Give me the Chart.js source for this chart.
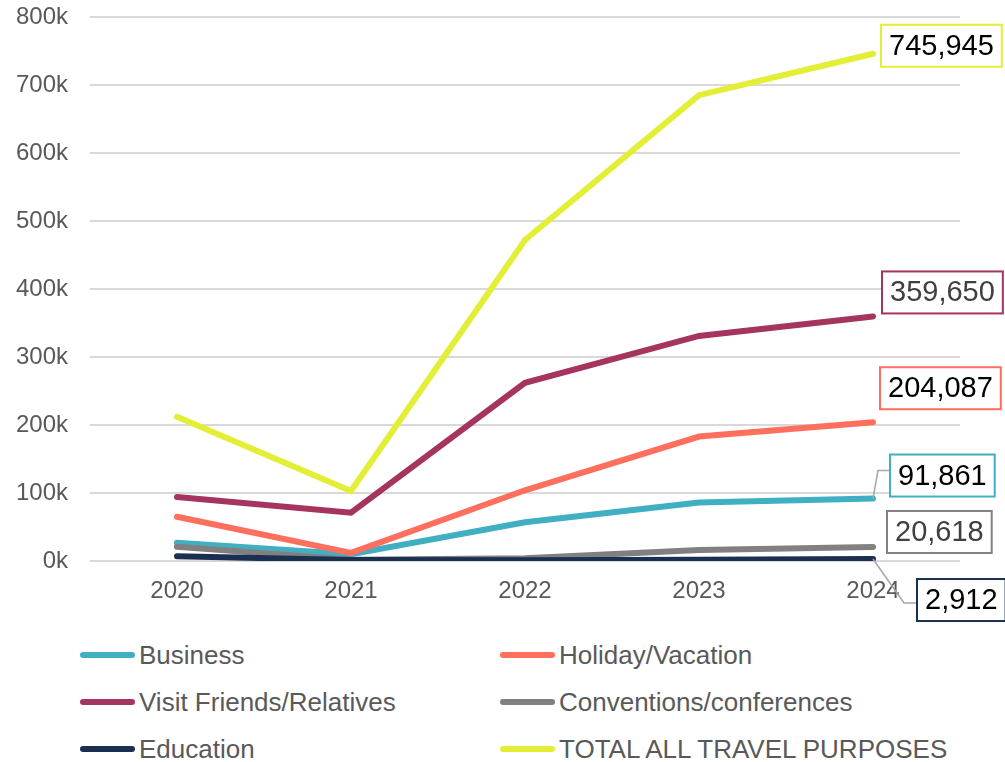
<!DOCTYPE html>
<html>
<head>
<meta charset="utf-8">
<script src="https://cdn.jsdelivr.net/npm/chart.js@4.4.1/dist/chart.umd.min.js"></script>
<style>
  body { margin: 0; background: #fff; font-family: "Liberation Sans", Arial, sans-serif; }
  #wrap { position: relative; width: 1005px; height: 762px; overflow: hidden; }
  #chartBox { position: absolute; left: 0; top: 0; width: 1005px; height: 630px; }
  .item { position: absolute; height: 30px; line-height: 30px; display: flex; align-items: center; font-size: 26px; color: #595959; white-space: nowrap; }
  .swatch { width: 55px; height: 6px; border-radius: 3px; margin-right: 4px; }
</style>
</head>
<body>
<div id="wrap">
  <div id="chartBox"><canvas id="travelChart"></canvas></div>
  <div id="legend"></div>
</div>
<script>
// years on the x axis
var years = ['2020', '2021', '2022', '2023', '2024'];

// visitors by travel purpose
var business      = [27000, 10000, 57000, 86000, 91861];
var holiday       = [65000, 12000, 104000, 183000, 204087];
var visitFriends  = [94000, 71000, 262000, 331000, 359650];
var conventions   = [21000, 2000, 4000, 16000, 20618];
var education     = [7000, 1500, 1000, 2000, 2912];
var totalAll      = [212000, 103000, 472000, 685000, 745945];

var seriesNames = ['Business', 'Holiday/Vacation', 'Visit Friends/Relatives',
                   'Conventions/conferences', 'Education', 'TOTAL ALL TRAVEL PURPOSES'];
var seriesData  = [business, holiday, visitFriends, conventions, education, totalAll];
var seriesColors = ['#40AFC1', '#FF6F5E', '#A5345F', '#808080', '#1B3050', '#E3EE36'];

// where the end-of-line value boxes sit, relative to the last point
var labelOffsets = [
    { dx: 17, dy: -44, color: '#000', leader: [[0, 0], [5, -28], [17, -28]] },
    { dx: 7,  dy: -55, color: '#000' },
    { dx: 9,  dy: -45, color: '#404040' },
    { dx: 14, dy: -36, color: '#404040' },
    { dx: 44, dy: 20,  color: '#000', leader: [[0, 0], [31, 44], [44, 44]] },
    { dx: 8,  dy: -29, color: '#000' }
];

var valueLabels = {
    id: 'valueLabels',
    afterDatasetsDraw: function (chart) {
        var ctx = chart.ctx;
        chart.data.datasets.forEach(function (ds, i) {
            var meta = chart.getDatasetMeta(i);
            var pt = meta.data[meta.data.length - 1];
            var o = labelOffsets[i];
            var text = ds.data[ds.data.length - 1].toLocaleString('en-US');
            ctx.save();
            ctx.font = '29px "Liberation Sans", Arial, sans-serif';
            var w = ctx.measureText(text).width + 16;
            var h = 42;
            var bx = pt.x + o.dx, by = pt.y + o.dy;
            if (o.leader) {
                ctx.strokeStyle = '#a6a6a6';
                ctx.lineWidth = 1.5;
                ctx.beginPath();
                o.leader.forEach(function (p, k) {
                    if (k === 0) ctx.moveTo(pt.x + p[0], pt.y + p[1]);
                    else ctx.lineTo(pt.x + p[0], pt.y + p[1]);
                });
                ctx.stroke();
            }
            ctx.fillStyle = '#fff';
            ctx.fillRect(bx, by, w, h);
            ctx.strokeStyle = ds.borderColor;
            ctx.lineWidth = 2;
            ctx.strokeRect(bx, by, w, h);
            ctx.fillStyle = o.color;
            ctx.textAlign = 'center';
            ctx.textBaseline = 'middle';
            ctx.fillText(text, bx + w / 2, by + h / 2 + 1);
            ctx.restore();
        });
    }
};

var datasets = seriesNames.map(function (name, i) {
    return {
        label: name,
        data: seriesData[i],
        borderColor: seriesColors[i],
        backgroundColor: seriesColors[i],
        borderWidth: 6,
        borderCapStyle: 'round',
        pointRadius: 0,
        tension: 0,
        order: seriesNames.length - i
    };
});

var ctx_travel = document.getElementById('travelChart').getContext('2d');
var travelChart = new Chart(ctx_travel, {
    type: 'line',
    data: { labels: years, datasets: datasets },
    options: {
        responsive: true,
        maintainAspectRatio: false,
        animation: false,
        layout: { padding: { top: 17, right: 45, left: 0, bottom: 0 } },
        plugins: {
            legend: { display: false },
            tooltip: { enabled: false }
        },
        scales: {
            x: {
                offset: true,
                grid: { display: false, drawTicks: false },
                border: { display: false },
                ticks: { color: '#595959', font: { size: 24, family: '"Liberation Sans", Arial' }, padding: 16 },
                afterFit: function (s) { s.height = 69; }
            },
            y: {
                min: 0,
                max: 800000,
                grid: { color: '#d9d9d9', lineWidth: 2, drawTicks: false },
                border: { display: false },
                ticks: {
                    stepSize: 100000,
                    color: '#595959',
                    font: { size: 24, family: '"Liberation Sans", Arial' },
                    padding: 22,
                    callback: function (v) { return (v / 1000) + 'k'; }
                },
                afterFit: function (s) { s.width = 90; s.paddingTop = 0; s.paddingBottom = 0; }
            }
        }
    },
    plugins: [valueLabels]
});

// legend in two columns, built from the chart's datasets
var legendCols = [80, 500];
var legendRows = [655, 702, 749];
var legendBox = document.getElementById('legend');
travelChart.data.datasets.forEach(function (ds, i) {
    var el = document.createElement('div');
    el.className = 'item';
    el.style.left = legendCols[i % 2] + 'px';
    el.style.top = (legendRows[Math.floor(i / 2)] - 15) + 'px';
    var sw = document.createElement('span');
    sw.className = 'swatch';
    sw.style.background = ds.borderColor;
    el.appendChild(sw);
    el.appendChild(document.createTextNode(ds.label));
    legendBox.appendChild(el);
});
</script>
</body>
</html>
